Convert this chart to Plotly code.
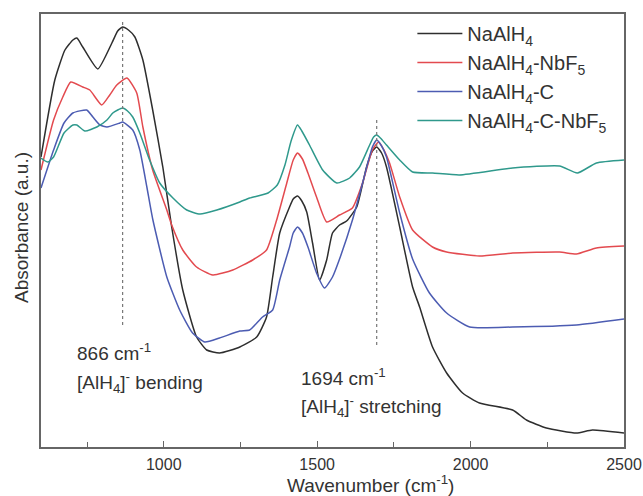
import plotly.graph_objects as go

# ---------------- data ----------------
wn_black = [600, 645, 678, 704, 717, 736, 785, 831, 850, 866, 885, 906, 932, 964, 997, 1026, 1062, 1107, 1140, 1182,
            1248, 1303, 1335, 1355, 1378, 1410, 1422, 1436, 1450, 1466, 1485, 1508, 1531, 1550, 1573, 1596, 1629, 1661,
            1680, 1694, 1710, 1726, 1769, 1811, 1834, 1876, 1922, 1974, 2029, 2137, 2182, 2247, 2345, 2397, 2500]
abs_black = [290, 367, 397, 407, 409, 400, 378, 404, 416, 420, 417, 410, 387, 337, 280, 220, 157, 110, 97, 94,
             100, 110, 130, 170, 214, 240, 248, 251, 246, 235, 204, 167, 187, 214, 222, 226, 240, 280,
             296, 300, 294, 280, 220, 160, 140, 100, 74, 54, 44, 37, 27, 19, 14, 17, 14]

wn_red = [600, 641, 671, 697, 736, 759, 798, 824, 847, 880, 912, 932, 964, 1010, 1026, 1062, 1107, 1160,
          1225, 1290, 1335, 1368, 1401, 1422, 1436, 1452, 1470, 1498, 1531, 1573, 1615, 1648, 1680, 1700, 1716,
          1736, 1769, 1811, 1876, 1922, 2029, 2137, 2290, 2345, 2410, 2500]
abs_red = [277, 327, 350, 365, 360, 357, 342, 352, 362, 369, 354, 320, 277, 237, 222, 197, 180, 172,
           177, 187, 197, 227, 264, 287, 294, 288, 274, 250, 225, 232, 239, 264, 297, 305, 298,
           284, 250, 217, 200, 195, 191, 194, 195, 193, 199, 201]

wn_blue = [600, 641, 675, 704, 749, 769, 792, 815, 857, 866, 899, 922, 945, 964, 1010, 1052, 1094, 1134,
           1182, 1248, 1280, 1322, 1355, 1378, 1410, 1422, 1436, 1452, 1470, 1498, 1524, 1550, 1573, 1615, 1648,
           1680, 1694, 1710, 1726, 1769, 1811, 1866, 1922, 1997, 2137, 2345, 2500]
abs_blue = [259, 297, 324, 334, 337, 330, 322, 320, 324, 325, 317, 297, 260, 228, 170, 137, 114, 105,
            109, 116, 117, 130, 137, 167, 200, 214, 220, 214, 200, 174, 159, 170, 188, 227, 264,
            300, 307, 301, 290, 234, 188, 154, 134, 120, 120, 122, 128]

wn_teal = [600, 622, 641, 675, 704, 717, 743, 782, 815, 834, 850, 866, 882, 899, 922, 954, 987, 1030, 1075, 1118,
           1173, 1248, 1280, 1340, 1370, 1395, 1415, 1436, 1450, 1475, 1518, 1564, 1606, 1638, 1671, 1684, 1694,
           1706, 1726, 1769, 1811, 1876, 1964, 2137, 2290, 2348, 2410, 2500]
abs_teal = [289, 285, 290, 314, 322, 322, 316, 320, 327, 334, 337, 339, 336, 330, 314, 287, 264, 249, 237, 233,
            237, 245, 249, 254, 262, 282, 306, 322, 316, 302, 277, 264, 269, 280, 302, 310, 312,
            309, 302, 287, 275, 274, 272, 279, 281, 274, 284, 287]

series_names = ["NaAlH<sub>4</sub>", "NaAlH<sub>4</sub>-NbF<sub>5</sub>",
                "NaAlH<sub>4</sub>-C", "NaAlH<sub>4</sub>-C-NbF<sub>5</sub>"]
series_colors = ["#2e2e2e", "#e34a4f", "#4c5cb2", "#2f998c"]

peak_wn = [866, 1694]
peak_line_low = [122, 102]
peak_line_high = [427, 329]
peak_texts = [("866 cm<sup>-1</sup>", "[AlH<sub>4</sub>]<sup>-</sup> bending"),
              ("1694 cm<sup>-1</sup>", "[AlH<sub>4</sub>]<sup>-</sup> stretching")]
peak_text_x = [712, 1440]
peak_text_y = [(95, 65), (70, 41)]

x_ticks = [1000, 1500, 2000, 2500]
x_minor = [750, 1250, 1750, 2250]

# ---------------- figure ----------------
FONT = "Arial, 'Liberation Sans', sans-serif"
fig = go.Figure()

for i, (xs, ys, name, col) in enumerate(zip([wn_black, wn_red, wn_blue, wn_teal],
                                            [abs_black, abs_red, abs_blue, abs_teal],
                                            series_names, series_colors)):
    fig.add_trace(go.Scatter(x=xs, y=ys, mode="lines", name=name, legendgroup=f"g{i}",
                             line=dict(color=col, width=1.5, shape="spline", smoothing=0.5)))

for w, lo, hi in zip(peak_wn, peak_line_low, peak_line_high):
    fig.add_trace(go.Scatter(x=[w, w], y=[lo, hi], mode="lines", showlegend=False,
                             line=dict(color="#777777", width=1.2, dash="dot"), hoverinfo="skip"))

annotations = []
for (t1, t2), tx, (y1, y2) in zip(peak_texts, peak_text_x, peak_text_y):
    annotations.append(dict(x=tx, y=y1, xref="x", yref="y", text=t1, showarrow=False,
                            xanchor="left", yanchor="middle", font=dict(size=19, color="#333333", family=FONT)))
    annotations.append(dict(x=tx, y=y2, xref="x", yref="y", text=t2, showarrow=False,
                            xanchor="left", yanchor="middle", font=dict(size=19, color="#333333", family=FONT)))

annotations.append(dict(x=370, y=484, xref="paper", yref="paper", text="Wavenumber (cm<sup>-1</sup>)",
                        showarrow=False, xanchor="center", yanchor="middle",
                        font=dict(size=19, color="#333333", family=FONT)))
annotations.append(dict(x=21, y=228, xref="paper", yref="paper", text="Absorbance (a.u.)", textangle=-90,
                        showarrow=False, xanchor="center", yanchor="middle",
                        font=dict(size=19, color="#333333", family=FONT)))

# convert pixel placement of titles to paper coords
L, R, T, B = 41, 19, 14, 49
W, H = 643, 496
pw, ph = W - L - R, H - T - B
for a in annotations[-2:]:
    a["x"] = (a["x"] - L) / pw
    a["y"] = (H - B - a["y"]) / ph

fig.update_layout(
    width=W, height=H,
    margin=dict(l=L, r=R, t=T, b=B, pad=0, autoexpand=False),
    paper_bgcolor="white", plot_bgcolor="white",
    font=dict(family=FONT, color="#333333"),
    annotations=annotations,
    showlegend=True,
    legend=dict(x=0.637, y=1.0, xanchor="left", yanchor="top",
                font=dict(size=20, color="#333333", family=FONT),
                bgcolor="rgba(0,0,0,0)", itemwidth=45, tracegroupgap=0),
)
fig.update_xaxes(range=[600, 2500], tickvals=x_ticks, ticks="inside", ticklen=6, tickwidth=1.2,
                 tickcolor="#666666", showgrid=False, zeroline=False, showline=True, linecolor="#666666",
                 linewidth=1.5, mirror=True, automargin=False, ticklabelstandoff=2,
                 tickfont=dict(size=16, color="#333333", family=FONT),
                 minor=dict(tickvals=x_minor, ticks="inside", ticklen=5, tickwidth=1.2, tickcolor="#666666"))
fig.update_yaxes(range=[0, 433], showticklabels=False, ticks="", showgrid=False, zeroline=False,
                 showline=True, linecolor="#666666", linewidth=1.5, mirror=True, automargin=False)

fig.write_html("out.html", config={"displayModeBar": False},
               post_script="document.body.style.margin='0px';document.body.style.overflow='hidden';")
